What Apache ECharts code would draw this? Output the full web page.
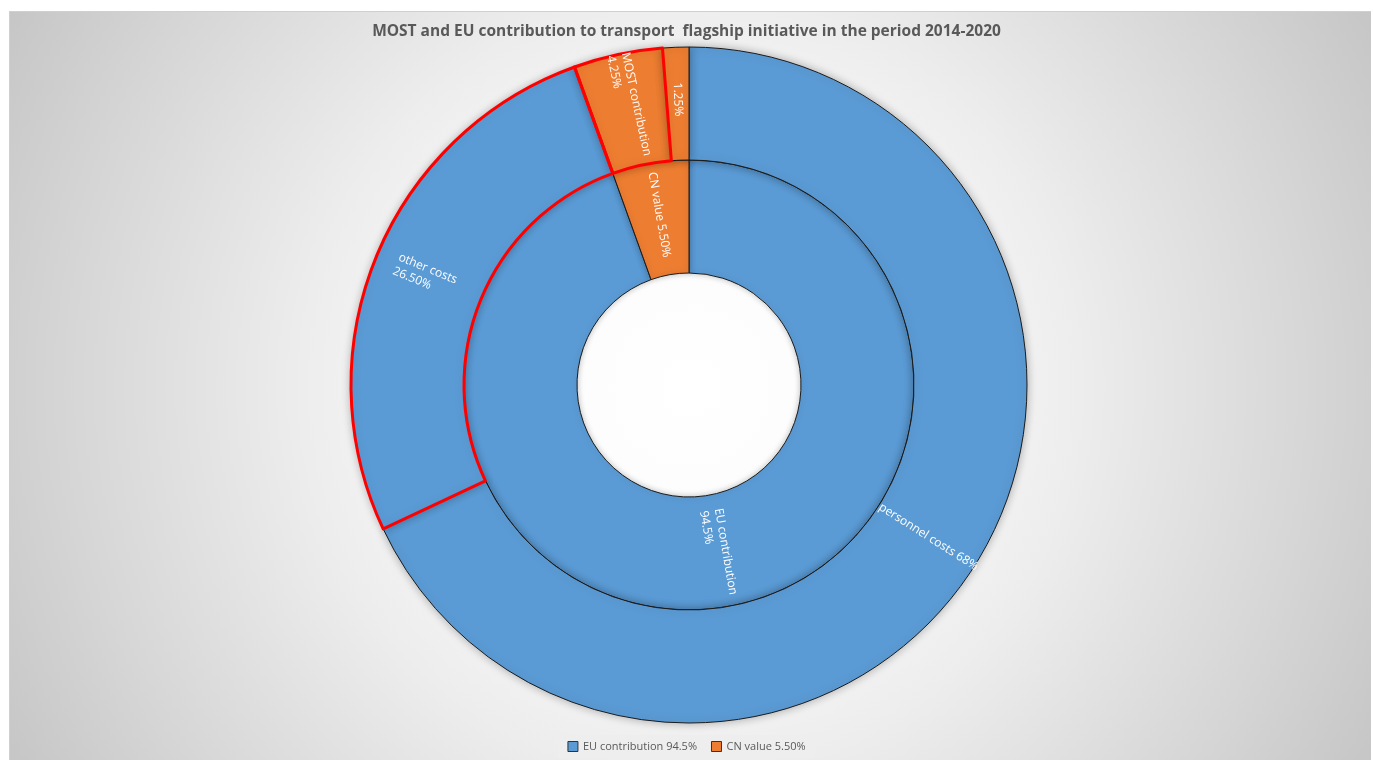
<!DOCTYPE html>
<html>
<head>
<meta charset="utf-8">
<script src="https://cdn.jsdelivr.net/npm/echarts@6/dist/echarts.min.js"></script>
<style>
  html, body { margin: 0; padding: 0; width: 1373px; height: 760px; background: #ffffff; overflow: hidden; }
  #bg { position: absolute; left: 9px; top: 11px; width: 1361px; height: 749px;
        border-top: 1px solid #d0d0d0; border-left: 1px solid #d0d0d0;
        background: radial-gradient(circle at 50% 50%, #ffffff 0%, #fbfbfb 25%, #ededed 50%, #d6d6d6 80%, #c6c6c6 100%); }
  #chart { position: absolute; left: 0; top: 0; width: 1373px; height: 760px; }
</style>
</head>
<body>
<div id="bg"></div>
<div id="chart"></div>
<script>
// ---- data ----
const titleText = 'MOST and EU contribution to transport  flagship initiative in the period 2014-2020';
const innerNames = ['EU contribution 94.5%', 'CN value 5.50%'];
const innerLabelLines = [['EU contribution', '94.5%'], ['CN value 5.50%']];
const innerValues = [94.5, 5.5];
const outerNames = ['personnel costs', 'other costs', 'MOST contribution', 'rest'];
const outerLabelLines = [['personnel costs 68%'], ['other costs', '26.50%'], ['MOST contribution', '4.25%'], ['1.25%']];
const outerValues = [68, 26.5, 4.25, 1.25];
const outerHighlighted = [false, true, true, false];

// ---- styles ----
const BLUE = '#5B9BD5';
const ORANGE = '#ED7D31';
const innerColors = [BLUE, ORANGE];
const outerColors = [BLUE, BLUE, ORANGE, ORANGE];
const center = [689, 385];
const FONT = 'Open Sans';
const labelStyle = { color: '#ffffff', fontSize: 12, fontFamily: FONT, lineHeight: 15 };

const measureCtx = document.createElement('canvas').getContext('2d');
measureCtx.font = '12px "Open Sans"';
function makeLabel(lines) {
  const w = Math.ceil(Math.max(...lines.map(l => measureCtx.measureText(l).width))) + 2;
  return {
    formatter: lines.map(l => '{t|' + l + '}').join('\n'),
    rich: { t: { width: w, align: 'left', color: '#ffffff', fontSize: 12, fontFamily: FONT, lineHeight: 15 } }
  };
}

const chart = echarts.init(document.getElementById('chart'), null, { renderer: 'canvas' });

const innerData = innerValues.map((v, i) => ({
  name: innerNames[i], value: v,
  itemStyle: { color: innerColors[i], borderColor: '#1a1a1a', borderWidth: 1 },
  label: makeLabel(innerLabelLines[i])
}));
const outerData = outerValues.map((v, i) => ({
  name: outerNames[i], value: v,
  itemStyle: { color: outerColors[i], borderColor: '#1a1a1a', borderWidth: 1 },
  label: makeLabel(outerLabelLines[i])
}));
const overlayData = outerValues.map((v, i) => ({
  name: outerNames[i], value: v,
  itemStyle: { color: 'rgba(0,0,0,0)', borderColor: outerHighlighted[i] ? '#FF0000' : 'rgba(0,0,0,0)', borderWidth: outerHighlighted[i] ? 3 : 0 }
}));

chart.setOption({
  animation: false,
  title: {
    text: titleText, left: 'center', top: 19,
    textStyle: { fontFamily: FONT, fontSize: 15.5, fontWeight: 'bold', color: '#595959' }
  },
  legend: {
    data: innerNames, bottom: 2, left: 'center',
    itemWidth: 10, itemHeight: 10, itemGap: 14, icon: 'rect',
    backgroundColor: '#eeeeee', padding: [6, 10],
    itemStyle: { borderColor: '#333333', borderWidth: 1 },
    textStyle: { fontFamily: FONT, fontSize: 11, color: '#595959' }
  },
  series: [
    {
      type: 'pie', name: 'inner', center: center, radius: [112, 225],
      startAngle: 90, clockwise: true, silent: true,
      label: Object.assign({ show: true, position: 'inside', rotate: 'radial' }, labelStyle),
      labelLine: { show: false },
      itemStyle: { shadowBlur: 6, shadowColor: 'rgba(0,0,0,0.25)' },
      data: innerData
    },
    {
      type: 'pie', name: 'outer', center: center, radius: [225, 338],
      startAngle: 90, clockwise: true, silent: true,
      label: Object.assign({ show: true, position: 'inside', rotate: 'radial' }, labelStyle),
      labelLine: { show: false },
      itemStyle: { shadowBlur: 10, shadowColor: 'rgba(0,0,0,0.3)' },
      data: outerData
    },
    {
      type: 'pie', name: 'overlay', center: center, radius: [225, 338],
      startAngle: 90, clockwise: true, silent: true,
      label: { show: false }, labelLine: { show: false },
      data: overlayData
    }
  ]
});
</script>
</body>
</html>
